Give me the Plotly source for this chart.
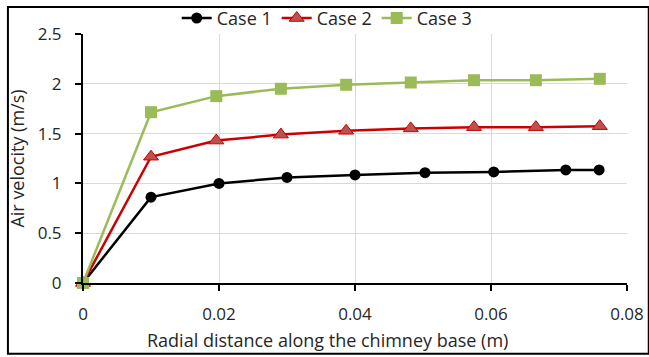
import plotly.graph_objects as go

case1_x = [0, 0.01, 0.02, 0.03, 0.04, 0.0503, 0.0604, 0.071, 0.0759]
case1_y = [0, 0.862, 1.0, 1.06, 1.085, 1.108, 1.115, 1.135, 1.135]
case23_x = [0, 0.01, 0.0196, 0.0291, 0.0387, 0.0482, 0.0575, 0.0666, 0.0760]
case2_y = [0, 1.268, 1.43, 1.49, 1.528, 1.552, 1.565, 1.565, 1.575]
case3_y = [0, 1.715, 1.876, 1.95, 1.99, 2.013, 2.036, 2.036, 2.05]

x_ticks = [0, 0.02, 0.04, 0.06, 0.08]
x_tick_labels = ["0", "0.02", "0.04", "0.06", "0.08"]
y_ticks = [0, 0.5, 1, 1.5, 2, 2.5]
y_tick_labels = ["0", "0.5", "1", "1.5", "2", "2.5"]
x_title = "Radial distance along the chimney base (m)"
y_title = "Air velocity (m/s)"

FONT = "Open Sans"
FS = 18
TXT = "#262626"

fig = go.Figure()
fig.add_trace(go.Scatter(
    x=case1_x, y=case1_y, name="Case 1", mode="lines+markers", cliponaxis=False,
    line=dict(color="#000000", width=2.5),
    marker=dict(symbol="circle", size=11, color="#000000"),
))
fig.add_trace(go.Scatter(
    x=case23_x, y=case2_y, name="Case 2", mode="lines+markers", cliponaxis=False,
    line=dict(color="#CC0000", width=2.5),
    marker=dict(symbol="triangle-up", size=13, color="#C0504D",
                line=dict(color="#C00000", width=1)),
))
fig.add_trace(go.Scatter(
    x=case23_x, y=case3_y, name="Case 3", mode="lines+markers", cliponaxis=False,
    line=dict(color="#9BBB59", width=2.5),
    marker=dict(symbol="square", size=12, color="#9BBB59"),
))

fig.update_layout(
    width=649, height=357,
    margin=dict(l=83, r=22, t=34, b=74, autoexpand=False),
    paper_bgcolor="white", plot_bgcolor="white",
    font=dict(family=FONT, size=FS, color=TXT),
    showlegend=True,
    legend=dict(orientation="h", x=0.448, xanchor="center", y=1.063, yanchor="middle",
                font=dict(family=FONT, size=FS, color=TXT),
                bgcolor="rgba(0,0,0,0)", itemwidth=30, tracegroupgap=0),
    xaxis=dict(
        range=[0, 0.08], tickvals=x_ticks, ticktext=x_tick_labels,
        showgrid=True, gridcolor="#D9D9D9", gridwidth=1,
        showline=True, linecolor="#000000", linewidth=2,
        ticks="outside", ticklen=6, tickcolor="#000000", tickwidth=2,
        ticklabelstandoff=9, zeroline=False, automargin=False,
        tickfont=dict(family=FONT, size=17, color=TXT),
    ),
    yaxis=dict(
        range=[0, 2.5], tickvals=y_ticks, ticktext=y_tick_labels,
        showgrid=True, gridcolor="#D9D9D9", gridwidth=1,
        showline=True, linecolor="#000000", linewidth=2,
        ticks="outside", ticklen=6, tickcolor="#000000", tickwidth=2,
        ticklabelstandoff=10, zeroline=False, automargin=False,
        tickfont=dict(family=FONT, size=17, color=TXT),
        title=dict(text=y_title, standoff=8,
                   font=dict(family=FONT, size=FS, color=TXT)),
    ),
    annotations=[dict(text=x_title, xref="paper", yref="paper",
                      x=0.449, y=-0.23, xanchor="center", yanchor="middle",
                      showarrow=False, font=dict(family=FONT, size=FS, color=TXT))],
    shapes=[dict(type="rect", xref="paper", yref="paper",
                 x0=-0.138, x1=1.04, y0=-0.284, y1=1.108,
                 line=dict(color="#000000", width=2), fillcolor="rgba(0,0,0,0)",
                 layer="above")],
)

fig.write_html("out.html")
